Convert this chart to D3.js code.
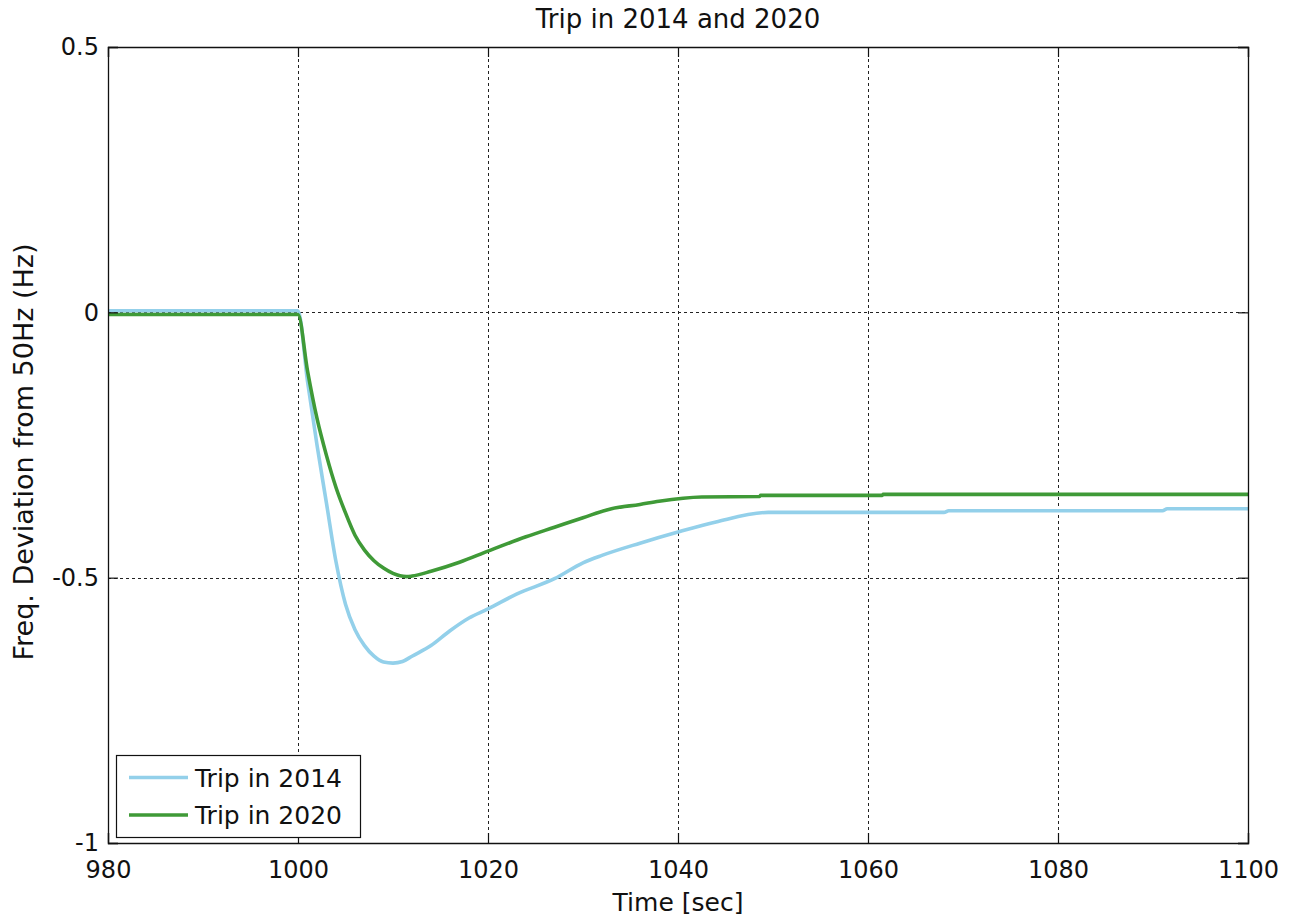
<!DOCTYPE html>
<html>
<head>
<meta charset="utf-8">
<script src="https://cdn.jsdelivr.net/npm/d3@7"></script>
<style>
  html, body { margin: 0; padding: 0; background: #fff; }
  text { font-family: "DejaVu Sans", Verdana, sans-serif; fill: #111; }
</style>
</head>
<body>
<svg id="chart" width="1289" height="919"></svg>
<script>
// ---- data ----
const title = "Trip in 2014 and 2020";
const xLabel = "Time [sec]";
const yLabel = "Freq. Deviation from 50Hz (Hz)";
const xTicks = [980, 1000, 1020, 1040, 1060, 1080, 1100];
const yTicks = [-1, -0.5, 0, 0.5];
const seriesNames = ["Trip in 2014", "Trip in 2020"];

const time2014 = [980, 1000, 1001, 1002, 1003, 1004, 1005, 1006, 1007, 1008, 1009, 1010, 1011, 1012, 1014, 1016, 1018, 1020, 1023, 1027, 1030, 1032, 1036, 1040, 1044, 1049.5, 1068, 1068.5, 1091, 1091.5, 1100];
const trip2014 = [0.003, 0.003, -0.13, -0.25, -0.36, -0.47, -0.55, -0.598, -0.628, -0.648, -0.659, -0.661, -0.658, -0.648, -0.628, -0.60, -0.576, -0.559, -0.531, -0.502, -0.472, -0.458, -0.435, -0.414, -0.395, -0.377, -0.377, -0.374, -0.374, -0.370, -0.370];

const time2020 = [980, 1000, 1001, 1002, 1003, 1004, 1005, 1006, 1007, 1008, 1009, 1010, 1011.4, 1012, 1014, 1017, 1020, 1024, 1027, 1030, 1033, 1036, 1038, 1042.5, 1048.6, 1048.7, 1061.5, 1061.6, 1100];
const trip2020 = [-0.004, -0.004, -0.11, -0.20, -0.27, -0.33, -0.378, -0.42, -0.448, -0.468, -0.482, -0.492, -0.498, -0.497, -0.488, -0.471, -0.45, -0.423, -0.405, -0.387, -0.37, -0.362, -0.356, -0.348, -0.347, -0.345, -0.345, -0.343, -0.343];

const colors = ["#93d0ea", "#3f9a37"];

// ---- layout ----
const svg = d3.select("#chart");
const L = 108, R = 1248, T = 47, B = 843;
const x = d3.scaleLinear().domain([980, 1100]).range([L, R]);
const y = d3.scaleLinear().domain([-1, 0.5]).range([B, T]);

svg.append("rect").attr("width", 1289).attr("height", 919).attr("fill", "#fff");

// grid
const grid = svg.append("g").attr("stroke", "#222").attr("stroke-width", 1).attr("stroke-dasharray", "3,3");
grid.selectAll("line.gx").data(xTicks.slice(1, -1)).enter().append("line")
  .attr("x1", d => Math.round(x(d)) + 0.5).attr("x2", d => Math.round(x(d)) + 0.5)
  .attr("y1", T).attr("y2", B);
grid.selectAll("line.gy").data(yTicks.slice(1, -1)).enter().append("line")
  .attr("y1", d => Math.round(y(d)) + 0.5).attr("y2", d => Math.round(y(d)) + 0.5)
  .attr("x1", L).attr("x2", R);

// lines
const line = d3.line().x(d => x(d[0])).y(d => y(d[1])).curve(d3.curveMonotoneX);
const data2014 = time2014.map((t, i) => [t, trip2014[i]]);
const data2020 = time2020.map((t, i) => [t, trip2020[i]]);
const plot = svg.append("g");
plot.append("path").datum(data2014).attr("d", line).attr("fill", "none")
  .attr("stroke", colors[0]).attr("stroke-width", 3.6).attr("stroke-linejoin", "round");
plot.append("path").datum(data2020).attr("d", line).attr("fill", "none")
  .attr("stroke", colors[1]).attr("stroke-width", 3.6).attr("stroke-linejoin", "round");

// axes (ticks inside, box on)
const tickLen = 10;
const fmt = d => String(d);
const axB = svg.append("g").attr("transform", `translate(0,${B})`)
  .call(d3.axisBottom(x).tickValues(xTicks).tickSize(-tickLen).tickPadding(18).tickFormat(fmt));
const axT = svg.append("g").attr("transform", `translate(0,${T})`)
  .call(d3.axisTop(x).tickValues(xTicks).tickSize(-tickLen).tickFormat(""));
const axL = svg.append("g").attr("transform", `translate(${L},0)`)
  .call(d3.axisLeft(y).tickValues(yTicks).tickSize(-tickLen).tickPadding(9).tickFormat(fmt));
const axR = svg.append("g").attr("transform", `translate(${R},0)`)
  .call(d3.axisRight(y).tickValues(yTicks).tickSize(-tickLen).tickFormat(""));
[axB, axT, axL, axR].forEach(a => {
  a.select(".domain").attr("stroke", "#111").attr("stroke-width", 1.3);
  a.selectAll(".tick line").attr("stroke", "#111").attr("stroke-width", 1.2);
  a.selectAll("text").attr("font-size", 24).attr("font-family", "DejaVu Sans, Verdana, sans-serif").attr("fill", "#111");
});

// title & labels
svg.append("text").attr("x", (L + R) / 2).attr("y", 28).attr("text-anchor", "middle")
  .attr("font-size", 26).text(title);
svg.append("text").attr("x", (L + R) / 2).attr("y", 911).attr("text-anchor", "middle")
  .attr("font-size", 25).text(xLabel);
svg.append("text").attr("transform", `translate(33,452) rotate(-90)`)
  .attr("text-anchor", "middle").attr("font-size", 27).text(yLabel);

// legend
const lg = svg.append("g");
lg.append("rect").attr("x", 116.5).attr("y", 755.5).attr("width", 244).attr("height", 82)
  .attr("fill", "#fff").attr("stroke", "#111").attr("stroke-width", 1.2);
const rows = [777.5, 815];
seriesNames.forEach((name, i) => {
  lg.append("line").attr("x1", 129).attr("x2", 188).attr("y1", rows[i]).attr("y2", rows[i])
    .attr("stroke", colors[i]).attr("stroke-width", 3.6);
  lg.append("text").attr("x", 195).attr("y", rows[i] + 9).attr("font-size", 25).text(name);
});
</script>
</body>
</html>
